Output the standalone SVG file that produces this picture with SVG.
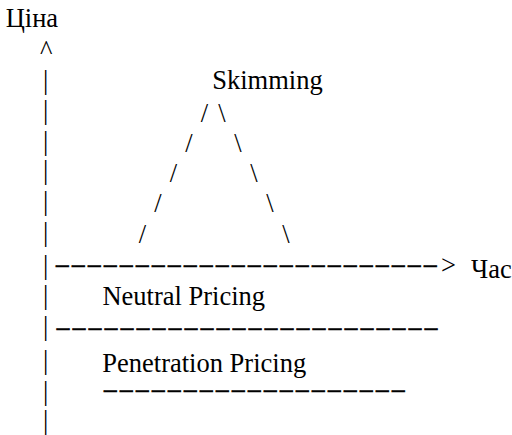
<svg xmlns="http://www.w3.org/2000/svg" width="512" height="435" viewBox="0 0 512 435" font-family="Liberation Serif, serif">
<style>
text { font-family: 'Liberation Serif', serif; font-size: 26.5px; fill: #000; }
.dash { font-size: 21px; stroke: #000; stroke-width: 0.5px; }
</style>
<rect width="512" height="435" fill="#fff"/>
<g id="price-axis">
  <text x="5.7" y="26.5">Ціна</text>
  <text x="40.1" y="58.6">^</text>
  <text>
    <tspan x="43" y="88.6">|</tspan>
    <tspan x="43" y="119">|</tspan>
    <tspan x="43" y="149.6">|</tspan>
    <tspan x="43" y="179">|</tspan>
    <tspan x="43" y="209.6">|</tspan>
    <tspan x="43" y="240.6">|</tspan>
    <tspan x="43" y="273.6">|</tspan>
    <tspan x="43" y="303.6">|</tspan>
    <tspan x="43" y="335">|</tspan>
    <tspan x="43" y="368.6">|</tspan>
    <tspan x="43" y="399.6">|</tspan>
    <tspan x="43" y="429">|</tspan>
  </text>
</g>
<g id="skimming">
  <text x="212.2" y="89">Skimming</text>
  <text>
    <tspan x="200.8" y="122">/</tspan><tspan x="218.3" y="122">\</tspan>
    <tspan x="185.3" y="152">/</tspan><tspan x="234.3" y="152">\</tspan>
    <tspan x="169.8" y="182">/</tspan><tspan x="250.3" y="182">\</tspan>
    <tspan x="154.3" y="212">/</tspan><tspan x="266.3" y="212">\</tspan>
    <tspan x="138.8" y="243">/</tspan><tspan x="282.3" y="243">\</tspan>
  </text>
</g>
<g id="neutral-pricing">
  <text x="102.4" y="305">Neutral Pricing</text>
</g>
<g id="penetration-pricing">
  <text x="102.3" y="371.5">Penetration Pricing</text>
</g>
<g id="time-label">
  <text x="471" y="277.5">Час</text>
</g>
<g id="connectors">
  <text class="dash" x="54.3" y="270.7" textLength="384" lengthAdjust="spacingAndGlyphs">------------------------</text>
  <text x="441" y="273.5">&gt;</text>
  <text class="dash" x="55" y="334" textLength="384" lengthAdjust="spacingAndGlyphs">------------------------</text>
  <text class="dash" x="102.3" y="395.7" textLength="304" lengthAdjust="spacingAndGlyphs">-------------------</text>
</g>
</svg>
